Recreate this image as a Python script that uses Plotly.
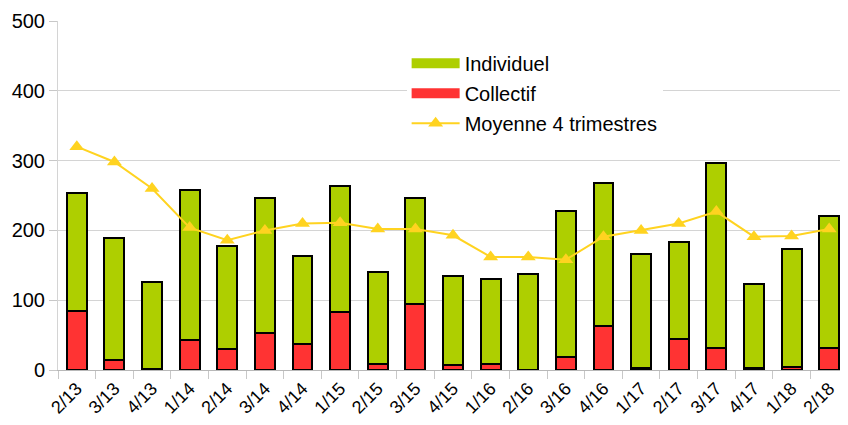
import plotly.graph_objects as go

categories = ["2/13", "3/13", "4/13", "1/14", "2/14", "3/14", "4/14", "1/15", "2/15", "3/15",
              "4/15", "1/16", "2/16", "3/16", "4/16", "1/17", "2/17", "3/17", "4/17", "1/18", "2/18"]
totals = [253, 189, 126, 258, 178, 246, 164, 263, 140, 247, 134, 131, 138, 228, 268, 166, 184, 296, 123, 173, 221]
collectif = [85, 15, 2, 43, 30, 53, 37, 83, 8, 94, 7, 9, 0, 19, 63, 3, 44, 31, 3, 5, 31]
individuel = [t - c for t, c in zip(totals, collectif)]
moyenne = [320, 298, 260, 204, 186, 200, 210, 211, 202, 202, 193, 162, 162, 158, 191, 200, 210, 227, 191, 192, 202]

FONT = "Liberation Sans, Arial, sans-serif"
GREEN = "#aecf00"
RED = "#ff3333"
YELLOW = "#ffd320"

fig = go.Figure()
fig.add_trace(go.Bar(x=categories, y=collectif, name="Collectif", showlegend=False,
                     marker=dict(color=RED, line=dict(color="black", width=2))))
fig.add_trace(go.Bar(x=categories, y=individuel, name="Individuel", showlegend=False,
                     marker=dict(color=GREEN, line=dict(color="black", width=2))))
fig.add_trace(go.Scatter(x=categories, y=moyenne, name="Moyenne 4 trimestres", mode="lines+markers",
                         legendrank=3, legendgroup="c",
                         line=dict(color=YELLOW, width=2),
                         marker=dict(symbol="triangle-up", size=13, color=YELLOW)))
# legend swatches (wide rectangles like the reference)
fig.add_trace(go.Scatter(x=[None], y=[None], mode="lines", name="Individuel", legendrank=1,
                         legendgroup="a", line=dict(color=GREEN, width=12), hoverinfo="skip"))
fig.add_trace(go.Scatter(x=[None], y=[None], mode="lines", name="Collectif", legendrank=2,
                         legendgroup="b", line=dict(color=RED, width=12), hoverinfo="skip"))

fig.update_layout(
    width=840, height=417,
    margin=dict(l=50, r=0, t=13, b=55),
    paper_bgcolor="white", plot_bgcolor="white",
    barmode="stack", bargap=0.47,
    font=dict(family=FONT, color="black"),
    showlegend=True,
    legend=dict(x=0.4413, y=0.935, xanchor="left", yanchor="top", bgcolor="white",
                font=dict(size=20, family=FONT), itemwidth=48,
                tracegroupgap=1),
)
fig.update_xaxes(type="category", range=[-0.5, len(categories) - 0.5], tickangle=-45,
                 tickfont=dict(size=18), ticks="outside",
                 tickson="boundaries", ticklen=8, tickcolor="#c8c8c8", showline=True,
                 linecolor="#b8b8b8", showgrid=False, automargin=False)
fig.update_yaxes(range=[0, 500], dtick=100, tickfont=dict(size=20), ticks="outside", ticklen=8,
                 tickcolor="#c8c8c8", showgrid=True, gridcolor="#d4d4d4", showline=True,
                 linecolor="#d4d4d4", zeroline=False, automargin=False)

fig.write_html("out.html")
